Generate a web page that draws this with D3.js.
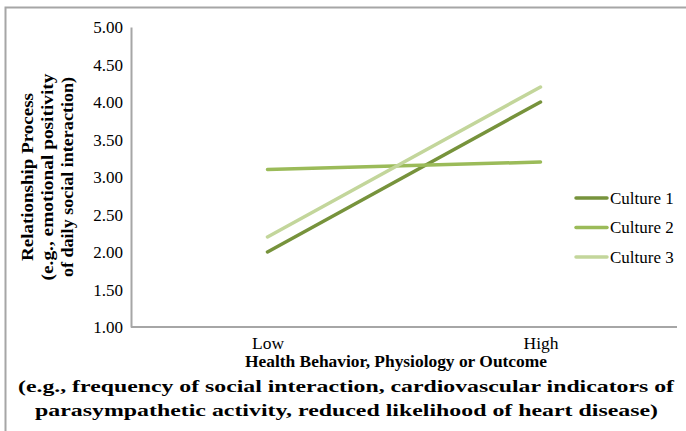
<!DOCTYPE html>
<html>
<head>
<meta charset="utf-8">
<script src="https://cdn.jsdelivr.net/npm/d3@7"></script>
<style>
	body{margin:0;background:#fff;}
	svg text{font-family:"Liberation Serif","Times New Roman",serif;fill:#000;}
</style>
</head>
<body>
<svg id="chart" width="686" height="431"></svg>
<script>
const categories = ["Low", "High"];
const seriesNames = ["Culture 1", "Culture 2", "Culture 3"];
const culture1 = [2.0, 4.0];
const culture2 = [3.1, 3.2];
const culture3 = [2.2, 4.2];
const yTicks = [1, 1.5, 2, 2.5, 3, 3.5, 4, 4.5, 5];
const yTitle = ["Relationship Process", "(e.g., emotional positivity", "of daily social interaction)"];
const xTitle = ["Health Behavior, Physiology or Outcome",
	"(e.g., frequency of social interaction, cardiovascular indicators of",
	"parasympathetic activity, reduced likelihood of heart disease)"];

const colors = ["#77933c", "#9bbb59", "#c3d69b"];
const series = [culture1, culture2, culture3];
// title line layout (stretched type in the original)
const yTitleLen = [168, 207, 200];
const xTitleX = [245, 18, 35];
const xTitleLen = [302, 656, 623];

const svg = d3.select('#chart');
const plot = {left: 131, right: 677, top: 27, bottom: 327};

// outer frame (only left + top visible)
svg.append('path')
	.attr('d', 'M5.5,431 L5.5,7.5 L686,7.5')
	.attr('fill', 'none').attr('stroke', '#a6a6a6').attr('stroke-width', 2);

var x = d3.scalePoint().domain(categories).range([plot.left, plot.right]).padding(0.5);
var y = d3.scaleLinear().domain([1, 5]).range([plot.bottom, plot.top]);

// y axis
var yAxisG = svg.append('g')
	.attr('transform', 'translate(' + plot.left + ',0)')
	.call(d3.axisLeft(y).tickValues(yTicks).tickFormat(d3.format('.2f')).tickSize(0).tickPadding(8));
yAxisG.selectAll('text').style('font-size', '17px').attr('dy', '0.35em');

// x axis
var xAxisG = svg.append('g')
	.attr('transform', 'translate(0,' + plot.bottom + ')')
	.call(d3.axisBottom(x).tickSize(0).tickPadding(10));
xAxisG.selectAll('text').style('font-size', '17.5px').attr('dy', '0.71em');

svg.selectAll('.domain').attr('stroke', '#a6a6a6').attr('stroke-width', 2);
// x domain spans full plot width
xAxisG.select('.domain').attr('d', 'M' + plot.left + ',0H' + plot.right);

// lines
var line = d3.line().x(function(d, i){ return x(categories[i]); }).y(function(d){ return y(d); });
svg.selectAll('path.series').data(series).enter().append('path')
	.attr('class', 'series')
	.attr('d', line)
	.attr('fill', 'none')
	.attr('stroke', function(d, i){ return colors[i]; })
	.attr('stroke-width', 3.5)
	.attr('stroke-linecap', 'round');

// legend
var leg = svg.selectAll('g.leg').data(seriesNames).enter().append('g')
	.attr('class', 'leg')
	.attr('transform', function(d, i){ return 'translate(576,' + (198 + i * 29.5) + ')'; });
leg.append('line').attr('x1', 0).attr('x2', 31).attr('y1', 0).attr('y2', 0)
	.attr('stroke', function(d, i){ return colors[i]; })
	.attr('stroke-width', 3.5).attr('stroke-linecap', 'round');
leg.append('text').attr('x', 34).attr('dy', '0.35em').style('font-size', '17px')
	.text(function(d){ return d; });

// y title
svg.append('g').attr('transform', 'translate(0,177) rotate(-90)')
	.selectAll('text').data(yTitle).enter().append('text')
	.attr('x', function(d, i){ return -yTitleLen[i] / 2; })
	.attr('y', function(d, i){ return 33 + i * 20; })
	.attr('textLength', function(d, i){ return yTitleLen[i]; })
	.attr('lengthAdjust', 'spacingAndGlyphs')
	.style('font-size', '16.5px').style('font-weight', 'bold')
	.text(function(d){ return d; });

// x title
svg.selectAll('text.xt').data(xTitle).enter().append('text')
	.attr('class', 'xt')
	.attr('x', function(d, i){ return xTitleX[i]; })
	.attr('y', function(d, i){ return 367 + i * 24.5; })
	.attr('textLength', function(d, i){ return xTitleLen[i]; })
	.attr('lengthAdjust', 'spacingAndGlyphs')
	.style('font-size', '16.5px').style('font-weight', 'bold')
	.text(function(d){ return d; });
</script>
</body>
</html>
